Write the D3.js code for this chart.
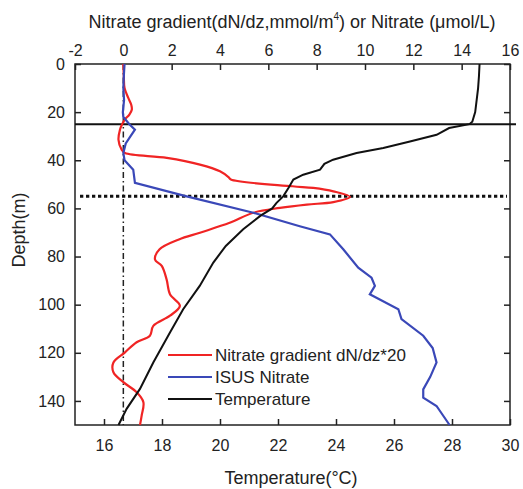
<!DOCTYPE html>
<html>
<head>
<meta charset="utf-8">
<script src="https://cdn.jsdelivr.net/npm/d3@7"></script>
<style>
 body { margin:0; background:#fff; }
 text { font-family: Arial, "Liberation Sans", sans-serif; fill:#222; }
</style>
</head>
<body>
<svg width="523" height="489"></svg>
<script>
// Data (depth in m).

var tempDepth = [0,5,10,15,20,24,25,26.6,29.4,32.2,34.9,37,39.75,41.5,43.9,46,48,51.5,55,57.7,60,63,68.7,75.6,82.5,92.2,101.9,111.5,124,135,143.3,150];
var tempValue = [28.95,28.93,28.9,28.85,28.8,28.7,28.6,27.9,27.47,26.55,25.63,24.71,23.9,23.6,23.45,22.87,22.53,22.36,22.18,21.95,21.8,21.4,20.8,20.2,19.77,19.3,18.73,18.28,17.7,17.24,16.78,16.5];

var nitDepth = [0,5,10,15,20,22,25,27.3,30,33,37,40,43.9,49.4,55,61.8,67.4,70.8,77,84.6,88.8,92.2,95.7,101.9,106,112.9,118,124,130,135.2,138.6,142.1,150];
var nitValue = [0.05,0.02,0.0,0.03,-0.02,0.0,0.25,0.48,0.3,0.1,0.0,0.05,0.41,0.48,2.62,5.38,7.3,8.55,9.1,9.72,10.27,10.41,10.2,11.38,11.51,12.41,12.8,12.96,12.7,12.41,12.41,12.96,13.5];

var gradDepth = [0,5,10,14,17,19,21,23,25,27.3,31.5,35.6,37,39,41.8,44.6,47,48,50.8,51.5,52.9,55.2,57.4,58.4,59.8,61.8,66,70.1,72.9,77,81.2,83.9,89.5,95.7,100.5,104.6,108.8,112.9,115.6,119.8,124,128.1,132.2,136.4,140.5,146,150];
var gradValue = [0,0.02,0.05,0.2,0.33,0.35,0.25,0.07,-0.05,-0.14,-0.2,-0.07,0.07,1.8,3.17,4.0,4.35,4.45,7.0,7.86,8.69,9.38,8.69,7.59,6.48,5.38,4.4,3.17,2.3,1.5,1.31,1.59,1.79,1.93,2.34,1.93,1.24,1.10,0.55,0.07,-0.41,-0.41,0,0.55,0.83,0.76,0.69];

var mixedDepth = 25;
var nitraclineDepth = 55;

var legendLabels = ['Nitrate gradient dN/dz*20', 'ISUS Nitrate', 'Temperature'];
var legendColors = ['#f02424', '#3a48b8', '#111'];

// Layout

var svg = d3.select('svg');
var margin = {top:64, right:13, bottom:64, left:75};
var width = svg.attr('width') - margin.left - margin.right;
var height = svg.attr('height') - margin.top - margin.bottom;
var g = svg.append('g').attr('transform', 'translate(' + margin.left + ',' + margin.top + ')');

var y = d3.scaleLinear().domain([0, 150]).range([0, height]);
var xTop = d3.scaleLinear().domain([-2, 16]).range([0, width]);
var xBot = d3.scaleLinear().domain([15, 30]).range([0, width]);

var plain = function(d) { return String(d); };

// Axes

function styleAxis(sel) {
 sel.selectAll('.domain').remove();
 sel.selectAll('line').attr('stroke', '#222').attr('stroke-width', 1.5);
 sel.selectAll('text').style('font-size', '16px').attr('fill', '#222');
}

g.append('g')
 .call(d3.axisTop(xTop).tickValues(d3.range(-2, 17, 2)).tickFormat(plain).tickSizeInner(-6).tickSizeOuter(0).tickPadding(8))
 .call(styleAxis);

g.append('g')
 .attr('transform', 'translate(0,' + height + ')')
 .call(d3.axisBottom(xBot).tickValues(d3.range(16, 31, 2)).tickFormat(plain).tickSizeInner(-6).tickSizeOuter(0).tickPadding(15))
 .call(styleAxis);

g.append('g')
 .call(d3.axisLeft(y).tickValues(d3.range(0, 141, 20)).tickFormat(plain).tickSizeInner(-6).tickSizeOuter(0).tickPadding(10))
 .call(styleAxis);

g.append('g')
 .attr('transform', 'translate(' + width + ',0)')
 .call(d3.axisRight(y).tickValues(d3.range(0, 141, 20)).tickSizeInner(-6).tickSizeOuter(0).tickFormat(''))
 .call(styleAxis);

g.append('rect')
 .attr('width', width).attr('height', height)
 .attr('fill', 'none').attr('stroke', '#222').attr('stroke-width', 1.5);

// Reference lines

g.append('line')
 .attr('x1', xTop(0)).attr('x2', xTop(0))
 .attr('y1', 0).attr('y2', height)
 .attr('stroke', '#222').attr('stroke-width', 1.5)
 .attr('stroke-dasharray', '6,3,1.5,3');

g.append('line')
 .attr('x1', 0).attr('x2', width + 6)
 .attr('y1', y(mixedDepth)).attr('y2', y(mixedDepth))
 .attr('stroke', '#111').attr('stroke-width', 2);

g.append('line')
 .attr('x1', 5).attr('x2', width - 3)
 .attr('y1', y(nitraclineDepth)).attr('y2', y(nitraclineDepth))
 .attr('stroke', '#111').attr('stroke-width', 3)
 .attr('stroke-dasharray', '3.3,2.7');

// Curves

var tempLine = d3.line()
 .x(function(d, i) { return xBot(tempValue[i]); })
 .y(function(d) { return y(d); });

var nitLine = d3.line()
 .x(function(d, i) { return xTop(nitValue[i]); })
 .y(function(d) { return y(d); });

var gradLine = d3.line()
 .curve(d3.curveCatmullRom)
 .x(function(d, i) { return xTop(gradValue[i]); })
 .y(function(d) { return y(d); });

g.append('path').datum(gradDepth).attr('d', gradLine)
 .attr('fill', 'none').attr('stroke', legendColors[0]).attr('stroke-width', 2.2);

g.append('path').datum(nitDepth).attr('d', nitLine)
 .attr('fill', 'none').attr('stroke', legendColors[1]).attr('stroke-width', 2.2);

g.append('path').datum(tempDepth).attr('d', tempLine)
 .attr('fill', 'none').attr('stroke', legendColors[2]).attr('stroke-width', 2);

// Titles

var topTitle = svg.append('text')
 .attr('x', 292).attr('y', 28)
 .attr('text-anchor', 'middle')
 .style('font-size', '18px');
topTitle.append('tspan').text('Nitrate gradient(dN/dz,mmol/m');
topTitle.append('tspan').attr('dy', -8).style('font-size', '10px').text('4');
topTitle.append('tspan').attr('dy', 8).text(') or Nitrate (\u03bcmol/L)');

svg.append('text')
 .attr('x', 291).attr('y', 484)
 .attr('text-anchor', 'middle')
 .style('font-size', '18px')
 .text('Temperature(\u00b0C)');

svg.append('text')
 .attr('transform', 'translate(25,230) rotate(-90)')
 .attr('text-anchor', 'middle')
 .style('font-size', '18px')
 .text('Depth(m)');

// Legend

var legend = svg.append('g')
 .selectAll('g')
 .data(legendLabels)
 .enter().append('g')
 .attr('transform', function(d, i) { return 'translate(168,' + (355 + i * 22) + ')'; });

legend.append('line')
 .attr('x1', 0).attr('x2', 44)
 .attr('stroke', function(d, i) { return legendColors[i]; })
 .attr('stroke-width', 2.2);

legend.append('text')
 .attr('x', 47).attr('dy', '0.35em')
 .style('font-size', '17px')
 .text(function(d) { return d; });
</script>
</body>
</html>
